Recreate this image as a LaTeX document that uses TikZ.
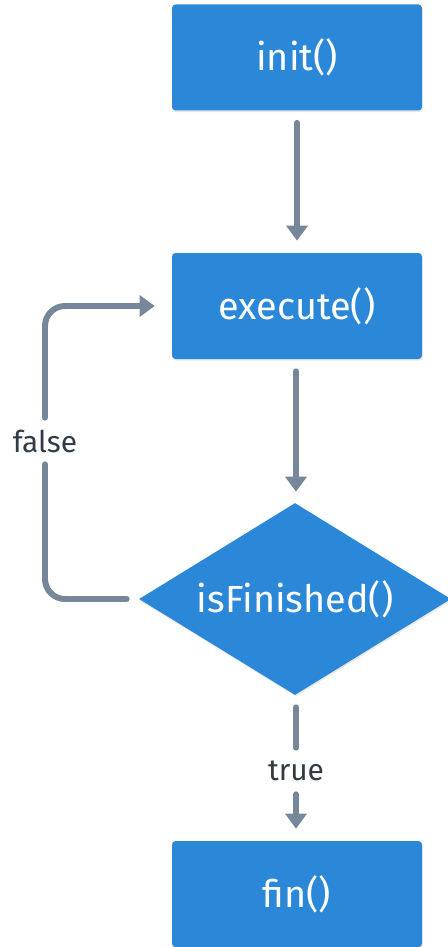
\documentclass[tikz,border=0pt]{standalone}
\usepackage{fontspec}
\setmainfont{Fira Sans}
\usetikzlibrary{positioning, arrows.meta, shapes.geometric, shadows}
\definecolor{xblue}{HTML}{2B88D8}
\definecolor{xgray}{HTML}{77879A}
\definecolor{xdark}{HTML}{2F3B46}
\tikzset{
  softshadow/.style = {drop shadow={shadow xshift=0.4pt, shadow yshift=-0.9pt, opacity=0.18}},
  block/.style = {rectangle, rounded corners=2pt, fill=xblue, text=white, minimum width=5cm, minimum height=2.12cm, font=\fontsize{21.5}{25}\selectfont, softshadow},
  decision/.style = {diamond, aspect=1.625, fill=xblue, text=white, minimum width=6.24cm, minimum height=3.84cm, inner sep=0pt, font=\fontsize{21.5}{25}\selectfont, softshadow},
  flow/.style = {draw=xgray, line width=3.4pt, line cap=round},
  flowarrow/.style = {flow, -{Triangle[width=0.42cm, length=0.3cm]}},
  branch/.style = {text=xdark, font=\fontsize{17}{20}\selectfont, inner xsep=0pt, inner ysep=0pt, minimum height=0.92cm},
}

\begin{document}
\begin{tikzpicture}
  \useasboundingbox (0,0) rectangle (8.96,-18.94);

  \node[block] (init) at (5.94,-1.15) {init()};
  \node[block] (execute) at (5.94,-6.12) {execute()};
  \node[decision] (check) at (5.9,-11.98) {isFinished()};
  \node[block] (fin) at (5.94,-17.88) {fin()};

  \node[branch] (true) at (5.92,-15.42) {true};
  \node[branch] (false) at (0.9,-8.82) {false};

  \draw[flowarrow, shorten <=0.24cm, shorten >=0.24cm] (init) -- (execute);
  \draw[flowarrow, shorten <=0.24cm, shorten >=0.22cm] (execute.south -| true) -- (check.north -| true);
  \draw[flow, shorten <=0.24cm] (check.south -| true) -- (true.north);
  \draw[flowarrow, shorten >=0.24cm] (true.south) -- (fin.north -| true);

  % loop back when not finished
  \draw[flow, rounded corners=0.4cm] ([xshift=-0.24cm]check.west) -| (false.south);
  \draw[flowarrow, rounded corners=0.4cm] (false.north) |- ([xshift=-0.34cm]execute.west);
\end{tikzpicture}
\end{document}
